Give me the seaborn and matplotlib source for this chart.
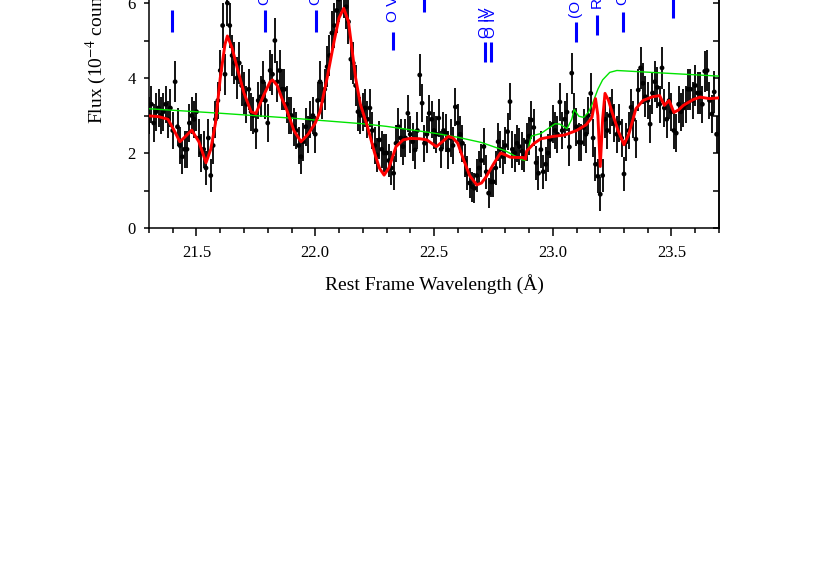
import numpy as np
import pandas as pd
import matplotlib
matplotlib.use("Agg")
import matplotlib.pyplot as plt
import seaborn as sns

# ---------------- data ----------------
wave_start = 21.30
wave_step = 0.01
flux = [
    3.0, 3.3, 2.8, 3.1, 3.2, 3.0, 3.1, 3.3, 2.9, 3.2,
    2.6, 3.9, 2.7, 2.2, 1.9, 2.1, 2.1, 2.8, 3.0, 2.9,
    3.1, 2.4, 2.0, 2.1, 1.6, 2.4, 1.4, 2.2, 2.9, 3.4,
    4.2, 5.4, 4.1, 6.0, 5.4, 4.6, 4.4, 4.0, 4.4, 3.8,
    3.6, 3.3, 3.7, 3.1, 3.0, 2.6, 3.4, 3.5, 3.9, 3.4,
    2.8, 4.2, 4.1, 5.0, 3.9, 4.2, 3.7, 3.7, 3.3, 3.0,
    3.0, 2.7, 2.6, 2.2, 1.9, 2.3, 2.7, 2.5, 2.9, 3.0,
    2.5, 3.4, 3.9, 3.4, 3.7, 4.3, 4.6, 5.2, 5.4, 5.8,
    6.1, 6.4, 6.2, 5.9, 5.5, 4.5, 4.4, 3.8, 3.1, 3.0,
    3.1, 3.2, 2.9, 3.2, 2.6, 2.2, 1.95, 2.35, 2.1, 2.0,
    2.0, 1.8, 1.6, 1.46, 2.26, 2.7, 2.4, 2.17, 2.4, 3.06,
    2.5, 2.3, 2.08, 2.6, 4.08, 3.33, 2.26, 2.5, 3.06, 2.9,
    2.6, 2.5, 2.93, 2.1, 2.6, 2.53, 2.08, 2.4, 2.2, 3.23,
    2.8, 2.5, 2.26, 1.8, 1.46, 1.2, 1.1, 1.06, 1.4, 1.6,
    1.8, 2.17, 1.5, 0.93, 1.23, 1.23, 1.6, 2.3, 2.1, 1.9,
    2.2, 2.57, 3.37, 2.1, 2.0, 2.26, 2.17, 2.05, 1.95, 2.3,
    2.45, 2.88, 2.68, 1.74, 1.46, 2.09, 1.5, 1.7, 2.0, 2.36,
    2.77, 2.6, 2.5, 3.36, 2.6, 2.9, 3.09, 2.16, 4.13, 3.09,
    2.7, 2.29, 2.28, 2.68, 2.5, 3.0, 3.59, 2.4, 1.7, 1.38,
    0.9, 1.4, 2.9, 2.6, 3.0, 3.22, 2.8, 2.5, 2.8, 2.4,
    1.44, 2.3, 2.6, 3.22, 2.9, 2.37, 3.68, 4.27, 3.86, 3.5,
    3.4, 2.77, 3.6, 3.9, 3.75, 3.3, 4.27, 3.2, 2.9, 3.4,
    3.1, 2.6, 2.53, 3.3, 3.1, 3.2, 3.3, 3.7, 3.7, 3.4,
    3.8, 3.6, 3.6, 3.3, 4.18, 4.2, 3.4, 3.04, 3.63, 2.5,
]
flux_err = [
    .5, .5, .5, .5, .5, .5, .5, .5, .5, .5,
    .5, .55, .5, .5, .45, .5, .5, .5, .5, .5,
    .5, .5, .5, .5, .45, .5, .45, .5, .5, .5,
    .55, .6, .55, .6, .6, .55, .55, .55, .55, .55,
    .55, .5, .55, .5, .5, .5, .5, .55, .55, .5,
    .5, .55, .55, .6, .55, .55, .55, .55, .5, .5,
    .5, .5, .5, .5, .45, .5, .5, .5, .5, .5,
    .5, .5, .55, .5, .55, .55, .55, .6, .6, .6,
    .6, .65, .6, .6, .6, .55, .55, .55, .5, .5,
    .5, .5, .5, .5, .5, .5, .45, .5, .5, .5,
    .5, .45, .45, .45, .5, .5, .5, .5, .5, .5,
    .5, .5, .5, .5, .55, .5, .5, .5, .5, .5,
    .5, .5, .5, .5, .5, .5, .5, .5, .5, .5,
    .5, .5, .5, .45, .45, .4, .4, .4, .45, .45,
    .45, .5, .45, .4, .4, .4, .45, .5, .5, .45,
    .5, .5, .5, .5, .5, .5, .5, .5, .45, .5,
    .5, .5, .5, .45, .45, .5, .45, .45, .5, .5,
    .5, .5, .5, .5, .5, .5, .5, .5, .55, .5,
    .5, .5, .5, .5, .5, .5, .55, .5, .45, .45,
    .45, .45, .5, .5, .5, .5, .5, .5, .5, .5,
    .45, .5, .5, .5, .5, .5, .55, .55, .55, .55,
    .5, .5, .55, .55, .55, .5, .55, .5, .5, .5,
    .5, .5, .5, .5, .5, .5, .5, .55, .55, .5,
    .55, .55, .55, .5, .55, .55, .5, .5, .55, .5,
]

model_wave = [21.30, 21.34, 21.38, 21.41, 21.43, 21.455, 21.48, 21.51, 21.54, 21.56,
              21.58, 21.60, 21.62, 21.63, 21.65, 21.67, 21.70, 21.73, 21.75, 21.78,
              21.81, 21.82, 21.84, 21.86, 21.88, 21.91, 21.94, 21.97, 22.00, 22.02,
              22.05, 22.08, 22.10, 22.12, 22.14, 22.15, 22.17, 22.19, 22.22, 22.25,
              22.27, 22.29, 22.31, 22.34, 22.37, 22.40, 22.44, 22.47, 22.51, 22.535,
              22.56, 22.58, 22.60, 22.62, 22.65, 22.68, 22.70, 22.72, 22.75, 22.78,
              22.80, 22.82, 22.85, 22.875, 22.885, 22.89, 22.92, 22.95, 23.00, 23.05,
              23.10, 23.14, 23.165, 23.18, 23.19, 23.20, 23.21, 23.22, 23.235, 23.25,
              23.275, 23.30, 23.32, 23.35, 23.38, 23.42, 23.45, 23.47, 23.49, 23.51,
              23.53, 23.55, 23.59, 23.62, 23.66, 23.70]
model_flux = [2.99, 2.97, 2.90, 2.55, 2.30, 2.45, 2.61, 2.30, 1.74, 2.10,
              2.80, 4.00, 4.90, 5.12, 4.80, 4.30, 3.60, 3.10, 3.05, 3.50,
              3.90, 3.95, 3.80, 3.45, 3.15, 2.60, 2.30, 2.50, 2.80, 3.10,
              4.00, 5.00, 5.60, 5.86, 5.50, 5.00, 4.00, 3.30, 2.70, 2.00,
              1.60, 1.41, 1.60, 2.17, 2.35, 2.39, 2.38, 2.35, 2.17, 2.30,
              2.44, 2.40, 2.26, 1.90, 1.40, 1.15, 1.20, 1.37, 1.70, 2.00,
              1.95, 1.89, 1.88, 1.88, 1.84, 2.05, 2.25, 2.38, 2.44, 2.48,
              2.60, 2.75, 2.95, 3.45, 3.00, 1.64, 2.90, 3.59, 3.40, 3.08,
              2.60, 2.22, 2.50, 3.18, 3.40, 3.50, 3.53, 3.27, 3.40, 3.08,
              3.15, 3.27, 3.42, 3.49, 3.45, 3.47]

cont_wave = [21.30, 21.60, 21.90, 22.10, 22.20, 22.30, 22.40, 22.50, 22.60, 22.70,
             22.80, 22.87, 22.885, 22.91, 22.95, 22.98, 23.01, 23.03, 23.06, 23.08,
             23.09, 23.11, 23.13, 23.15, 23.17, 23.19, 23.21, 23.24, 23.27, 23.30,
             23.50, 23.70]
cont_flux = [3.18, 3.06, 2.93, 2.83, 2.78, 2.71, 2.62, 2.53, 2.42, 2.28,
             2.06, 1.82, 1.80, 2.45, 2.52, 2.65, 2.78, 2.77, 2.65, 2.90,
             3.16, 2.98, 2.95, 3.08, 3.36, 3.70, 3.95, 4.15, 4.20, 4.19,
             4.12, 4.05]

line_wave = [21.397, 21.79, 22.003, 22.327, 22.458, 22.715, 22.74, 23.10, 23.186, 23.296, 23.506]
line_low = [5.23, 5.23, 5.23, 4.75, 5.76, 4.43, 4.43, 4.96, 5.15, 5.23, 5.60]
line_high = [5.81, 5.81, 5.81, 5.23, 6.30, 4.96, 4.96, 5.49, 5.68, 5.76, 6.30]
line_text = ["O VII", "O VI", "O VI", "O V", "O V", "O IV", "O IV", "(O III)", "RRS", "O II", "O I"]
text_y = [6.20, 5.95, 5.95, 5.49, 6.45, 5.07, 5.07, 5.60, 5.87, 5.95, 6.45]

xticks = [21.5, 22.0, 22.5, 23.0, 23.5]
yticks = [0, 2, 4, 6]

# ---------------- figure ----------------
sns.set_theme(style="ticks")
plt.rcParams["font.family"] = ["Liberation Serif", "DejaVu Serif"]
plt.rcParams["mathtext.fontset"] = "stix"

W, H = 830, 577
fig = plt.figure(figsize=(W / 100, H / 100), dpi=100)
ax_bottom_px, ax_top_px = 228, -72
ax = fig.add_axes([149 / W, (H - ax_bottom_px) / H, (719 - 149) / W,
                   (ax_bottom_px - ax_top_px) / H])

wave = np.round(wave_start + wave_step * np.arange(len(flux)), 3)
df = pd.DataFrame({"wave": wave, "flux": flux, "err": flux_err})

ax.errorbar(df["wave"], df["flux"], yerr=df["err"], fmt="none",
            ecolor="black", elinewidth=1.3, capsize=0, zorder=2)
sns.scatterplot(data=df, x="wave", y="flux", color="black", s=12,
                edgecolor="none", ax=ax, zorder=3)

sns.lineplot(x=cont_wave, y=cont_flux, color="#00e400", lw=1.0,
             estimator=None, sort=False, ax=ax, zorder=4)
sns.lineplot(x=model_wave, y=model_flux, color="red", lw=2.1,
             estimator=None, sort=False, ax=ax, zorder=5)

ax.vlines(line_wave, line_low, line_high, color="blue", lw=2.2, zorder=6)
for xw, ty, t in zip(line_wave, text_y, line_text):
    ax.text(xw, ty, t, rotation=90, ha="center", va="bottom", color="blue",
            fontsize=11, family=["Liberation Sans", "DejaVu Sans"], zorder=6)

ax.set_xlim(21.3, 23.7)
ax.set_ylim(0, 8)
ax.set_xticks(xticks)
ax.set_xticklabels([f"{v:.1f}" for v in xticks])
ax.set_xticks(np.arange(21.3, 23.71, 0.1), minor=True)
ax.set_yticks(yticks)
ax.set_yticklabels([str(v) for v in yticks])
ax.set_yticks([1, 3, 5, 7], minor=True)

for s in ax.spines.values():
    s.set_color("black")
    s.set_linewidth(1.1)
    s.set_visible(True)

ax.tick_params(axis="x", which="major", direction="out", length=6, width=1.1,
               color="black", labelsize=12, pad=6, top=False)
ax.tick_params(axis="x", which="minor", direction="out", length=3.5, width=1.1,
               color="black", top=False)
ax.tick_params(axis="y", which="both", direction="out", length=3.6, width=1.1,
               color="black", labelsize=12, pad=6, right=False)

sec = ax.secondary_yaxis("right")
sec.set_yticks([0, 1, 2, 3, 4, 5, 6, 7])
sec.tick_params(axis="y", direction="in", length=4.5, width=1.1,
                color="black", labelright=False)
sec.spines["right"].set_color("black")
sec.spines["right"].set_linewidth(1.1)

ax.set_xlabel("Rest Frame Wavelength (Å)", fontsize=14, labelpad=10, color="black")
ax.set_ylabel("")
ax.tick_params(labelcolor="black")

fig.text(96 / W, (H - 124) / H,
         "Flux (10$^{-4}$ counts s$^{-1}$ cm$^{-2}$ Å$^{-1}$)",
         rotation=90, ha="center", va="bottom", fontsize=14, color="black")

fig.savefig("out.png", dpi=100)
